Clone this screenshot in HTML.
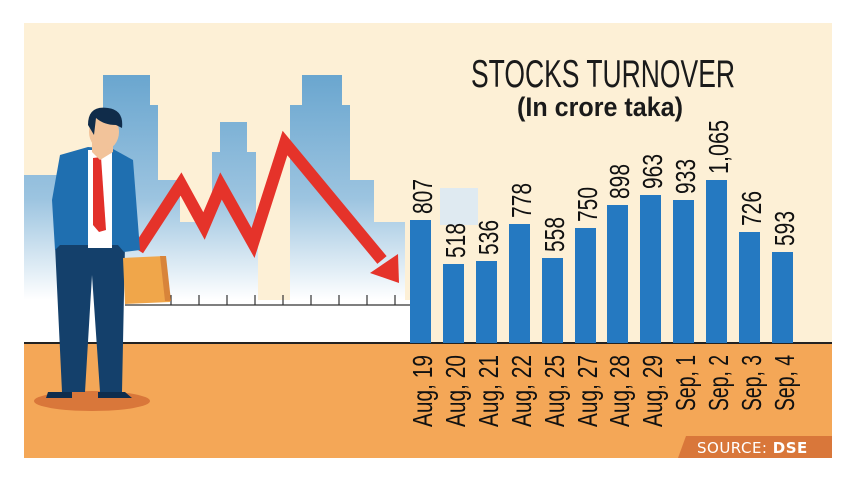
<!DOCTYPE html>
<html><head><meta charset="utf-8"><style>
html,body{margin:0;padding:0;background:#fff;}
svg{display:block}
text{font-family:"Liberation Sans Narrow","Liberation Sans",sans-serif;}
</style></head><body>
<svg width="857" height="482" viewBox="0 0 857 482" xmlns="http://www.w3.org/2000/svg">
<defs>
<linearGradient id="bg" x1="0" y1="0" x2="0" y2="1" gradientUnits="userSpaceOnUse" x1a="0">
</linearGradient>
<linearGradient id="bl" x1="0" y1="75" x2="0" y2="300" gradientUnits="userSpaceOnUse">
<stop offset="0" stop-color="#6aa6cf"/><stop offset="0.55" stop-color="#9cc4e0"/><stop offset="1" stop-color="#ffffff"/>
</linearGradient>
</defs>
<rect x="0" y="0" width="857" height="482" fill="#fff"/>
<rect x="24" y="23" width="808" height="435" fill="#fdf0d6"/>
<!-- buildings -->
<path fill="url(#bl)" d="M24,175 H52 V175 H103 V75 H150 V105 H158 V180 H180 V222 H212 V152 H220 V122 H247 V152 H256 V230 H275 V300 H290 V105 H302 V75 H342 V105 H350 V180 H374 V222 H405 V305 H24 Z"/>
<path fill="#fdf0d6" d="M258,230 H278 V300 H258 Z"/>
<path fill="#dbe9f4" d="M440,188 H478 V225 H440 Z" opacity="0.9"/>
<rect x="24" y="300" width="390" height="43" fill="#fff"/>
<!-- ruler -->
<line x1="125" y1="305" x2="410" y2="305" stroke="#333" stroke-width="1.3"/>
<g stroke="#333" stroke-width="1.2">
<line x1="171" y1="295" x2="171" y2="305"/><line x1="199" y1="295" x2="199" y2="305"/><line x1="227" y1="295" x2="227" y2="305"/><line x1="255" y1="295" x2="255" y2="305"/><line x1="283" y1="295" x2="283" y2="305"/><line x1="311" y1="295" x2="311" y2="305"/><line x1="339" y1="295" x2="339" y2="305"/><line x1="367" y1="295" x2="367" y2="305"/><line x1="395" y1="295" x2="395" y2="305"/>
</g>
<!-- ground -->
<rect x="24" y="343" width="808" height="115" fill="#f4a757"/>
<line x1="24" y1="343" x2="832" y2="343" stroke="#222" stroke-width="2"/>
<!-- arrow -->
<polyline points="138,250 181,184 204,226 221,186 253,243 285,143 382,260" fill="none" stroke="#e5332a" stroke-width="12" stroke-linejoin="miter"/>
<polygon points="370,273 398,254 399,283" fill="#e5332a"/>
<!-- man -->
<ellipse cx="92" cy="401" rx="58" ry="10" fill="#d9773a"/>
<path fill="#14406b" d="M55,245 H125 L122,392 H100 L92,275 L85,392 H62 Z"/>
<path fill="#0f2d4d" d="M48,392 H72 V398 H46 Z M98,392 H125 L132,398 H98 Z"/>
<path fill="#1f6fb0" d="M60,155 L88,147 L113,149 L133,160 L140,250 L124,252 L118,245 H60 L55,250 L52,200 Z"/>
<rect x="88" y="150" width="24" height="98" fill="#fff"/>
<polygon points="93,158 101,157 106,230 99,232 93,225" fill="#e2302a"/>
<path fill="#f2c39a" d="M92,135 H113 V152 L100,160 L92,152 Z"/>
<ellipse cx="104" cy="132" rx="15" ry="18" fill="#f2c39a"/>
<path fill="#102c4a" d="M88,125 Q88,105 108,108 Q124,110 122,128 L116,125 Q104,125 96,118 L94,135 Z"/>
<polygon points="123,258 165,256 170,302 125,304" fill="#f0a64a"/>
<polygon points="160,256 166,256 171,301 165,301" fill="#d8843a"/>
<!-- title -->
<text x="471" y="87" font-size="39" textLength="264" lengthAdjust="spacingAndGlyphs" fill="#1a1a1a">STOCKS TURNOVER</text>
<text x="517" y="116" font-size="27" font-weight="bold" textLength="166" lengthAdjust="spacingAndGlyphs" fill="#1a1a1a">(In crore taka)</text>
<!-- bars -->
<g fill="#2579c1">
<rect x="410" y="220" width="21" height="123"/><rect x="443" y="264" width="21" height="79"/><rect x="476" y="261" width="21" height="82"/><rect x="509" y="224" width="21" height="119"/><rect x="542" y="258" width="21" height="85"/><rect x="575" y="228" width="21" height="115"/><rect x="607" y="205" width="21" height="138"/><rect x="640" y="195" width="21" height="148"/><rect x="673" y="200" width="21" height="143"/><rect x="706" y="180" width="21" height="163"/><rect x="739" y="232" width="21" height="111"/><rect x="772" y="252" width="21" height="91"/>
</g>
<g font-size="28" fill="#111">
<text transform="translate(432,214) rotate(-90)" textLength="35" lengthAdjust="spacingAndGlyphs">807</text>
<text transform="translate(465,258) rotate(-90)" textLength="35" lengthAdjust="spacingAndGlyphs">518</text>
<text transform="translate(498,255) rotate(-90)" textLength="35" lengthAdjust="spacingAndGlyphs">536</text>
<text transform="translate(531,218) rotate(-90)" textLength="35" lengthAdjust="spacingAndGlyphs">778</text>
<text transform="translate(564,252) rotate(-90)" textLength="35" lengthAdjust="spacingAndGlyphs">558</text>
<text transform="translate(597,222) rotate(-90)" textLength="35" lengthAdjust="spacingAndGlyphs">750</text>
<text transform="translate(629,199) rotate(-90)" textLength="35" lengthAdjust="spacingAndGlyphs">898</text>
<text transform="translate(662,189) rotate(-90)" textLength="35" lengthAdjust="spacingAndGlyphs">963</text>
<text transform="translate(695,194) rotate(-90)" textLength="35" lengthAdjust="spacingAndGlyphs">933</text>
<text transform="translate(728,174) rotate(-90)" textLength="54" lengthAdjust="spacingAndGlyphs">1,065</text>
<text transform="translate(761,226) rotate(-90)" textLength="35" lengthAdjust="spacingAndGlyphs">726</text>
<text transform="translate(794,246) rotate(-90)" textLength="35" lengthAdjust="spacingAndGlyphs">593</text>
</g>
<g font-size="28" fill="#111" text-anchor="end">
<text transform="translate(432,355) rotate(-90)" textLength="72" lengthAdjust="spacingAndGlyphs">Aug, 19</text>
<text transform="translate(465,355) rotate(-90)" textLength="72" lengthAdjust="spacingAndGlyphs">Aug, 20</text>
<text transform="translate(498,355) rotate(-90)" textLength="72" lengthAdjust="spacingAndGlyphs">Aug, 21</text>
<text transform="translate(531,355) rotate(-90)" textLength="72" lengthAdjust="spacingAndGlyphs">Aug, 22</text>
<text transform="translate(564,355) rotate(-90)" textLength="72" lengthAdjust="spacingAndGlyphs">Aug, 25</text>
<text transform="translate(597,355) rotate(-90)" textLength="72" lengthAdjust="spacingAndGlyphs">Aug, 27</text>
<text transform="translate(629,355) rotate(-90)" textLength="72" lengthAdjust="spacingAndGlyphs">Aug, 28</text>
<text transform="translate(662,355) rotate(-90)" textLength="72" lengthAdjust="spacingAndGlyphs">Aug, 29</text>
<text transform="translate(695,355) rotate(-90)" textLength="56" lengthAdjust="spacingAndGlyphs">Sep, 1</text>
<text transform="translate(728,355) rotate(-90)" textLength="56" lengthAdjust="spacingAndGlyphs">Sep, 2</text>
<text transform="translate(761,355) rotate(-90)" textLength="56" lengthAdjust="spacingAndGlyphs">Sep, 3</text>
<text transform="translate(794,355) rotate(-90)" textLength="56" lengthAdjust="spacingAndGlyphs">Sep, 4</text>
</g>
<!-- source -->
<polygon points="686,436 832,436 832,458 678,458" fill="#d9773a"/>
<text x="697" y="453" font-size="15" fill="#fff" style="font-family:'DejaVu Sans',sans-serif" letter-spacing="0.5">SOURCE: <tspan font-weight="bold">DSE</tspan></text>
</svg>
</body></html>
